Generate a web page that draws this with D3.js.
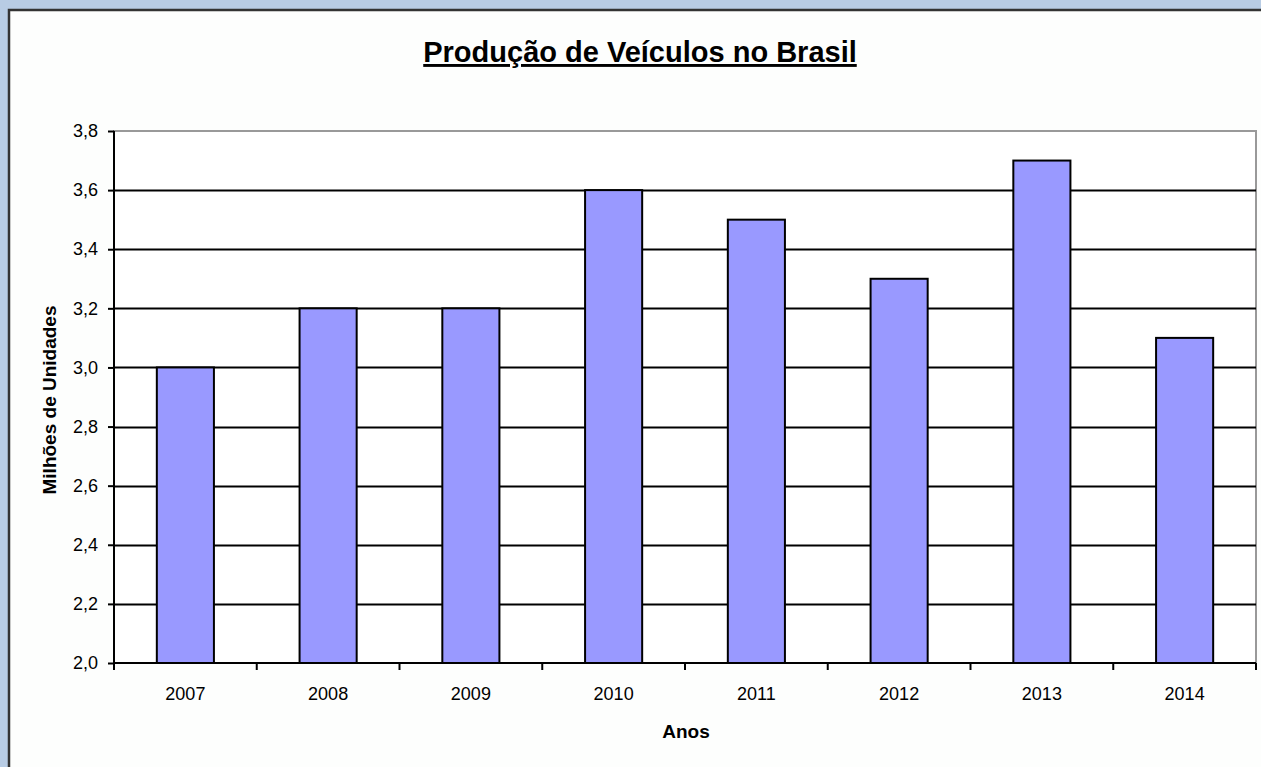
<!DOCTYPE html>
<html>
<head>
<meta charset="utf-8">
<script src="https://cdn.jsdelivr.net/npm/d3@7"></script>
<style>
  html, body { margin: 0; padding: 0; background: #b8cce4; }
  svg { display: block; font-family: 'Liberation Sans', Arial, sans-serif; }
</style>
</head>
<body>
<div id="chart"></div>
<script>
const years = ['2007', '2008', '2009', '2010', '2011', '2012', '2013', '2014']
const production = [3.0, 3.2, 3.2, 3.6, 3.5, 3.3, 3.7, 3.1]
const yTicks = [2.0, 2.2, 2.4, 2.6, 2.8, 3.0, 3.2, 3.4, 3.6, 3.8]

const W = 1261
const H = 767
const margin = { top: 131, right: 5, bottom: 104, left: 114 }
const width = W - margin.left - margin.right
const height = H - margin.top - margin.bottom

const svg = d3
  .select('#chart')
  .append('svg')
  .attr('width', W)
  .attr('height', H)

// chart frame
svg
  .append('rect')
  .attr('x', 9)
  .attr('y', 10)
  .attr('width', W + 20)
  .attr('height', H + 20)
  .attr('fill', '#fdfefd')
  .attr('stroke', '#333')
  .attr('stroke-width', 2.5)

svg
  .append('text')
  .attr('x', 640)
  .attr('y', 62)
  .attr('text-anchor', 'middle')
  .attr('font-size', 29)
  .attr('font-weight', 'bold')
  .attr('text-decoration', 'underline')
  .attr('fill', '#000')
  .text('Produção de Veículos no Brasil')

const g = svg
  .append('g')
  .attr('transform', 'translate(' + margin.left + ',' + margin.top + ')')

const x = d3.scaleBand().domain(years).range([0, width]).paddingInner(0.6).paddingOuter(0.3)
const xTickScale = d3.scaleLinear().domain([0, years.length]).range([0, width])
const y = d3.scaleLinear().domain([2.0, 3.8]).range([height, 0])

const fmt = d => d3.format('.1f')(d).replace('.', ',')

// plot area border (grey top/right)
g.append('rect')
  .attr('width', width)
  .attr('height', height)
  .attr('fill', '#fff')
  .attr('stroke', '#999')
  .attr('stroke-width', 2)

// gridlines
g.selectAll('.grid')
  .data(yTicks.slice(1, -1))
  .enter()
  .append('line')
  .attr('x1', 0)
  .attr('x2', width)
  .attr('y1', d => Math.round(y(d)) + 0.5)
  .attr('y2', d => Math.round(y(d)) + 0.5)
  .attr('stroke', '#000')
  .attr('stroke-width', 2)

g.selectAll('.bar')
  .data(production)
  .enter()
  .append('rect')
  .attr('x', (d, i) => x(years[i]))
  .attr('y', d => y(d))
  .attr('width', x.bandwidth())
  .attr('height', d => height - y(d))
  .attr('fill', '#9999ff')
  .attr('stroke', '#000')
  .attr('stroke-width', 2)

const yAxis = d3.axisLeft(y).tickValues(yTicks).tickFormat(fmt).tickSize(6).tickPadding(10)
const yG = g.append('g').call(yAxis)
yG.attr('font-size', null).attr('font-family', null)
yG.selectAll('text').attr('font-size', 18).attr('fill', '#000')
yG.selectAll('line, path').attr('stroke', '#000').attr('stroke-width', 2)
yG.select('.domain').attr('d', 'M0,' + height + 'V0')

// x axis with ticks between categories
const xG = g.append('g').attr('transform', 'translate(0,' + height + ')')
xG.append('line').attr('x1', 0).attr('x2', width).attr('stroke', '#000').attr('stroke-width', 2)
xG.selectAll('.tick')
  .data(d3.range(years.length + 1))
  .enter()
  .append('line')
  .attr('x1', d => xTickScale(d))
  .attr('x2', d => xTickScale(d))
  .attr('y1', 0)
  .attr('y2', 7)
  .attr('stroke', '#000')
  .attr('stroke-width', 2)
xG.selectAll('.label')
  .data(years)
  .enter()
  .append('text')
  .attr('x', d => x(d) + x.bandwidth() / 2)
  .attr('y', 37)
  .attr('text-anchor', 'middle')
  .attr('font-size', 18)
  .text(d => d)

svg
  .append('text')
  .attr('x', 686)
  .attr('y', 738)
  .attr('text-anchor', 'middle')
  .attr('font-size', 19)
  .attr('font-weight', 'bold')
  .text('Anos')

svg
  .append('text')
  .attr('transform', 'translate(56,400) rotate(-90)')
  .attr('text-anchor', 'middle')
  .attr('font-size', 19)
  .attr('font-weight', 'bold')
  .text('Milhões de Unidades')
</script>
</body>
</html>
